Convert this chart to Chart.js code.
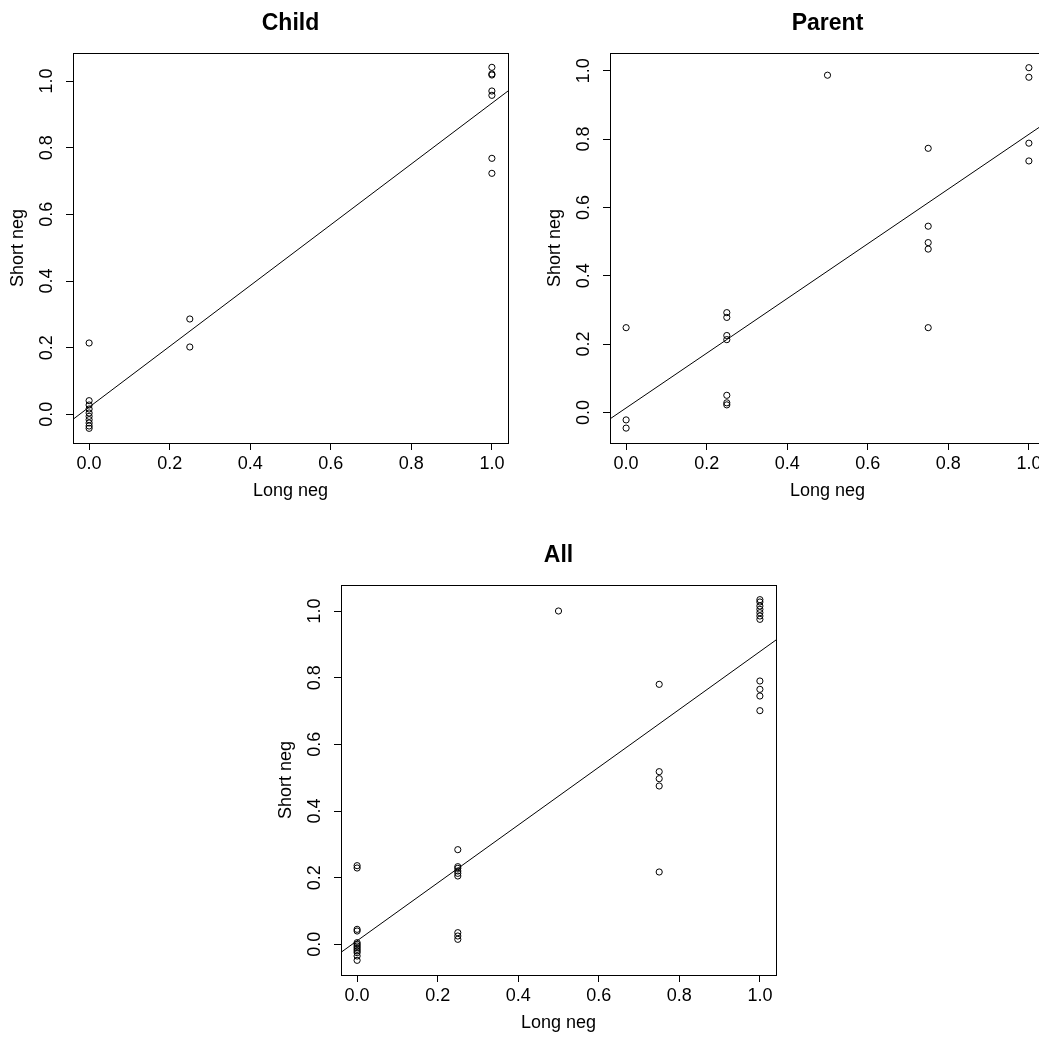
<!DOCTYPE html>
<html><head><meta charset="utf-8">
<script src="https://cdn.jsdelivr.net/npm/chart.js@4/dist/chart.umd.min.js"></script>
<style>
html,body{margin:0;padding:0;background:#fff;overflow:hidden;width:1039px;height:1038px;position:relative;}
canvas{position:absolute;}
</style></head><body>
<canvas id="cChild" width="520" height="519" style="left:0px;top:0px"></canvas>
<canvas id="cParent" width="520" height="519" style="left:537px;top:0px"></canvas>
<canvas id="cAll" width="520" height="519" style="left:268px;top:532px"></canvas>
<script>
// ---- data ----
const panelTitles = ['Child', 'Parent', 'All'];
const xLabel = 'Long neg';
const yLabel = 'Short neg';
const xTickValues = [0, 0.2, 0.4, 0.6, 0.8, 1.0];
const yTickValues = [0, 0.2, 0.4, 0.6, 0.8, 1.0];
const xLimits = [-0.04, 1.04];
const childYLimits = [-0.086, 1.084];
const parentYLimits = [-0.0896, 1.052];
const allYLimits = [-0.092, 1.078];

const childX = [0,0,0,0,0,0,0,0,0,0, 0.25,0.25, 1,1,1,1,1,1,1];
const childY = [0.214,0.041,0.028,0.016,0.004,-0.006,-0.016,-0.026,-0.035,-0.042, 0.286,0.202, 1.041,1.021,1.018,0.970,0.957,0.768,0.723];

const parentX = [0,0,0, 0.25,0.25,0.25,0.25,0.25,0.25,0.25, 0.5, 0.75,0.75,0.75,0.75,0.75, 1,1,1,1];
const parentY = [0.248,-0.022,-0.046, 0.292,0.278,0.225,0.213,0.050,0.028,0.022, 0.987, 0.773,0.545,0.497,0.478,0.248, 1.009,0.981,0.788,0.736];

const allX = [0,0,0,0,0,0,0,0,0,0,0,0,0, 0.25,0.25,0.25,0.25,0.25,0.25,0.25,0.25,0.25, 0.5, 0.75,0.75,0.75,0.75,0.75, 1,1,1,1,1,1,1,1,1,1,1];
const allY = [0.236,0.229,0.045,0.040,0.005,0.0,-0.005,-0.010,-0.015,-0.020,-0.025,-0.035,-0.048,
              0.284,0.233,0.228,0.220,0.213,0.205,0.035,0.025,0.015,
              1.0,
              0.780,0.518,0.497,0.475,0.217,
              1.034,1.027,1.015,1.005,0.995,0.985,0.975,0.790,0.765,0.745,0.701];

// regression fits: [intercept, slope]
const childFit = [0.0215, 0.912];
const parentFit = [0.013, 0.801];
const allFit = [0.0107, 0.8676];

// ---- drawing ----
const FONT = "'Liberation Sans', Arial, Helvetica, sans-serif";
const boxPlugin = {
  id: 'box',
  afterDatasetsDraw(chart) {
    const a = chart.chartArea, ctx = chart.ctx;
    ctx.save();
    ctx.strokeStyle = '#000';
    ctx.lineWidth = 1;
    ctx.strokeRect(Math.round(a.left) + 0.5, Math.round(a.top) + 0.5,
                   Math.round(a.right - a.left), Math.round(a.bottom - a.top));
    ctx.restore();
  }
};

function makePanel(id, title, xs, ys, fit, yLim) {
  const pts = xs.map((x, i) => ({x: x, y: ys[i]}));
  const line = xLimits.map(x => ({x: x, y: fit[0] + fit[1] * x}));
  new Chart(document.getElementById(id), {
    type: 'scatter',
    data: {datasets: [
      {data: pts, pointStyle: 'circle', pointRadius: 3.1, pointBorderColor: '#000',
       pointBackgroundColor: 'rgba(0,0,0,0)', pointBorderWidth: 1, showLine: false},
      {data: line, showLine: true, borderColor: '#000', borderWidth: 1, pointRadius: 0, fill: false}
    ]},
    options: {
      responsive: false, animation: false, events: [],
      layout: {padding: {left: 0, right: 12, top: 0, bottom: 0}},
      plugins: {
        legend: {display: false}, tooltip: {enabled: false},
        title: {display: true, text: title, color: '#000', fullSize: false,
                font: {family: FONT, size: 23, weight: 'bold'},
                padding: {top: 9.5, bottom: 15.9}}
      },
      scales: {
        x: {
          type: 'linear', min: xLimits[0], max: xLimits[1],
          afterBuildTicks: s => { s.ticks = xTickValues.map(v => ({value: v})); },
          afterFit: s => { s.height = 76; },
          grid: {drawOnChartArea: false, drawTicks: true, tickLength: 7, color: '#000', lineWidth: 1},
          border: {display: false},
          ticks: {color: '#000', font: {family: FONT, size: 18}, padding: 3, maxRotation: 0,
                  autoSkip: false, callback: v => Number(v).toFixed(1)},
          title: {display: true, text: xLabel, color: '#000', font: {family: FONT, size: 18},
                  padding: {top: 0, bottom: 17.4}}
        },
        y: {
          type: 'linear', min: yLim[0], max: yLim[1],
          afterBuildTicks: s => { s.ticks = yTickValues.map(v => ({value: v})); },
          afterFit: s => { s.width = 73; },
          grid: {drawOnChartArea: false, drawTicks: true, tickLength: 7, color: '#000', lineWidth: 1},
          border: {display: false},
          ticks: {color: '#000', font: {family: FONT, size: 18}, padding: 6, minRotation: 90, maxRotation: 90,
                  crossAlign: 'center', autoSkip: false, callback: v => Number(v).toFixed(1)},
          title: {display: true, text: yLabel, color: '#000', font: {family: FONT, size: 18},
                  padding: {top: 7.5, bottom: 0}}
        }
      }
    },
    plugins: [boxPlugin]
  });
}

makePanel('cChild', panelTitles[0], childX, childY, childFit, childYLimits);
makePanel('cParent', panelTitles[1], parentX, parentY, parentFit, parentYLimits);
makePanel('cAll', panelTitles[2], allX, allY, allFit, allYLimits);
</script>
</body></html>
